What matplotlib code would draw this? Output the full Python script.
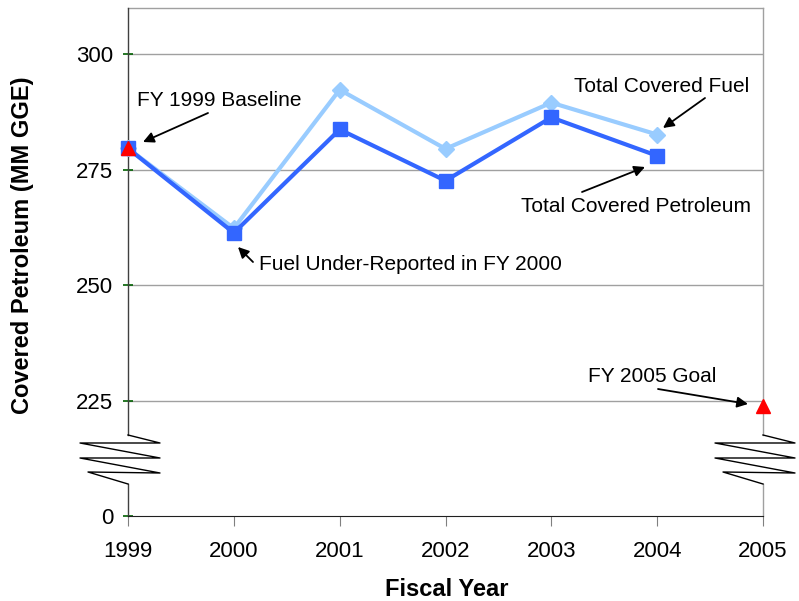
import matplotlib.pyplot as plt
import numpy as np

plt.rcParams['font.family'] = ['Liberation Sans', 'DejaVu Sans']

# fiscal years and totals (MM GGE)
years = [1999, 2000, 2001, 2002, 2003, 2004]
total_fuel = [279.6, 262.3, 292.3, 279.5, 289.5, 282.6]
total_petroleum = [279.6, 261.3, 283.7, 272.6, 286.3, 278.0]
goal_years = [1999, 2005]
goal_values = [279.6, 223.9]

year_ticks = [1999, 2000, 2001, 2002, 2003, 2004, 2005]
y_ticks = [200, 225, 250, 275, 300]
y_tick_labels = ['0', '225', '250', '275', '300']

fig = plt.figure(figsize=(7.99, 6.01), dpi=100)
ax = fig.add_axes([128 / 799, 85 / 601, 635 / 799, 508 / 601])
ax.set_xlim(1999, 2005)
ax.set_ylim(200, 310)

# pixel -> data helpers for the callouts
def px(x):
    return 1999 + (x - 128) / (635 / 6)

def py(y):
    return 200 + (516 - y) / (508 / 110)

for g in [225, 250, 275, 300]:
    ax.axhline(g, color='#a0a0a0', lw=1, zorder=1)

ax.plot(years, total_fuel, color='#99ccff', lw=3, marker='D', ms=8,
        mec='#99ccff', clip_on=False, zorder=3)
ax.plot(years, total_petroleum, color='#3366ff', lw=3, marker='s', ms=10,
        mec='#3366ff', clip_on=False, zorder=4)
ax.plot(goal_years, goal_values, ls='none', marker='^', ms=10, color='#ff0000',
        mec='#ff0000', clip_on=False, zorder=5)

# spines: left/right broken between 0 and 225
for s in ['left', 'right', 'top']:
    ax.spines[s].set_visible(False)
ax.spines['bottom'].set_color('#202020')
ax.plot([1999, 2005], [310, 310], color='#a0a0a0', lw=1, clip_on=False)

def broken_axis(x0, col):
    ax.plot([x0, x0], [py(435), 310], color=col, lw=1, clip_on=False, zorder=2)
    ax.plot([x0, x0], [200, py(484)], color=col, lw=1, clip_on=False, zorder=2)
    zx = [0, 32, -48, 32, -48, 32, -40, 0]
    zy = [435, 443, 443, 458, 458, 473, 472, 484]
    ax.plot([x0 + v / (635 / 6) for v in zx], [py(v) for v in zy],
            color='black', lw=1, clip_on=False, zorder=2)

broken_axis(1999, '#404040')
broken_axis(2005, '#a0a0a0')

ax.set_yticks(y_ticks)
ax.set_yticklabels(y_tick_labels)
ax.set_xticks(year_ticks)
ax.tick_params(axis='y', direction='inout', length=7, width=1.2,
               color='#006000', labelsize=16, pad=7)
ax.tick_params(axis='x', direction='out', length=7, color='#808080',
               labelsize=16, pad=11)

fig.text(447 / 799, 1 - 589 / 601, 'Fiscal Year', ha='center', va='center',
         fontsize=17, fontweight='bold')
fig.text(23 / 799, 1 - 245 / 601, 'Covered Petroleum (MM GGE)', rotation=90,
         ha='center', va='center', fontsize=17, fontweight='bold')

# callouts
notes = [
    ('FY 1999 Baseline', 137, 101, (208, 113), (143, 142)),
    ('Total Covered Fuel', 574, 87, (705, 98), (663, 128)),
    ('Total Covered Petroleum', 521, 206, (582, 192), (645, 167)),
    ('Fuel Under-Reported in FY 2000', 259, 264, (253, 262), (238, 247)),
    ('FY 2005 Goal', 588, 376, (658, 389), (748, 404)),
]
for txt, tx, ty, tail, tip in notes:
    ax.text(px(tx), py(ty), txt, fontsize=15, ha='left', va='center')
    ax.annotate('', xy=(px(tip[0]), py(tip[1])),
                xytext=(px(tail[0]), py(tail[1])),
                arrowprops=dict(arrowstyle='-|>', color='black', lw=1.3,
                                mutation_scale=16, shrinkA=0, shrinkB=0),
                annotation_clip=False)

fig.savefig('out.png', dpi=100)
